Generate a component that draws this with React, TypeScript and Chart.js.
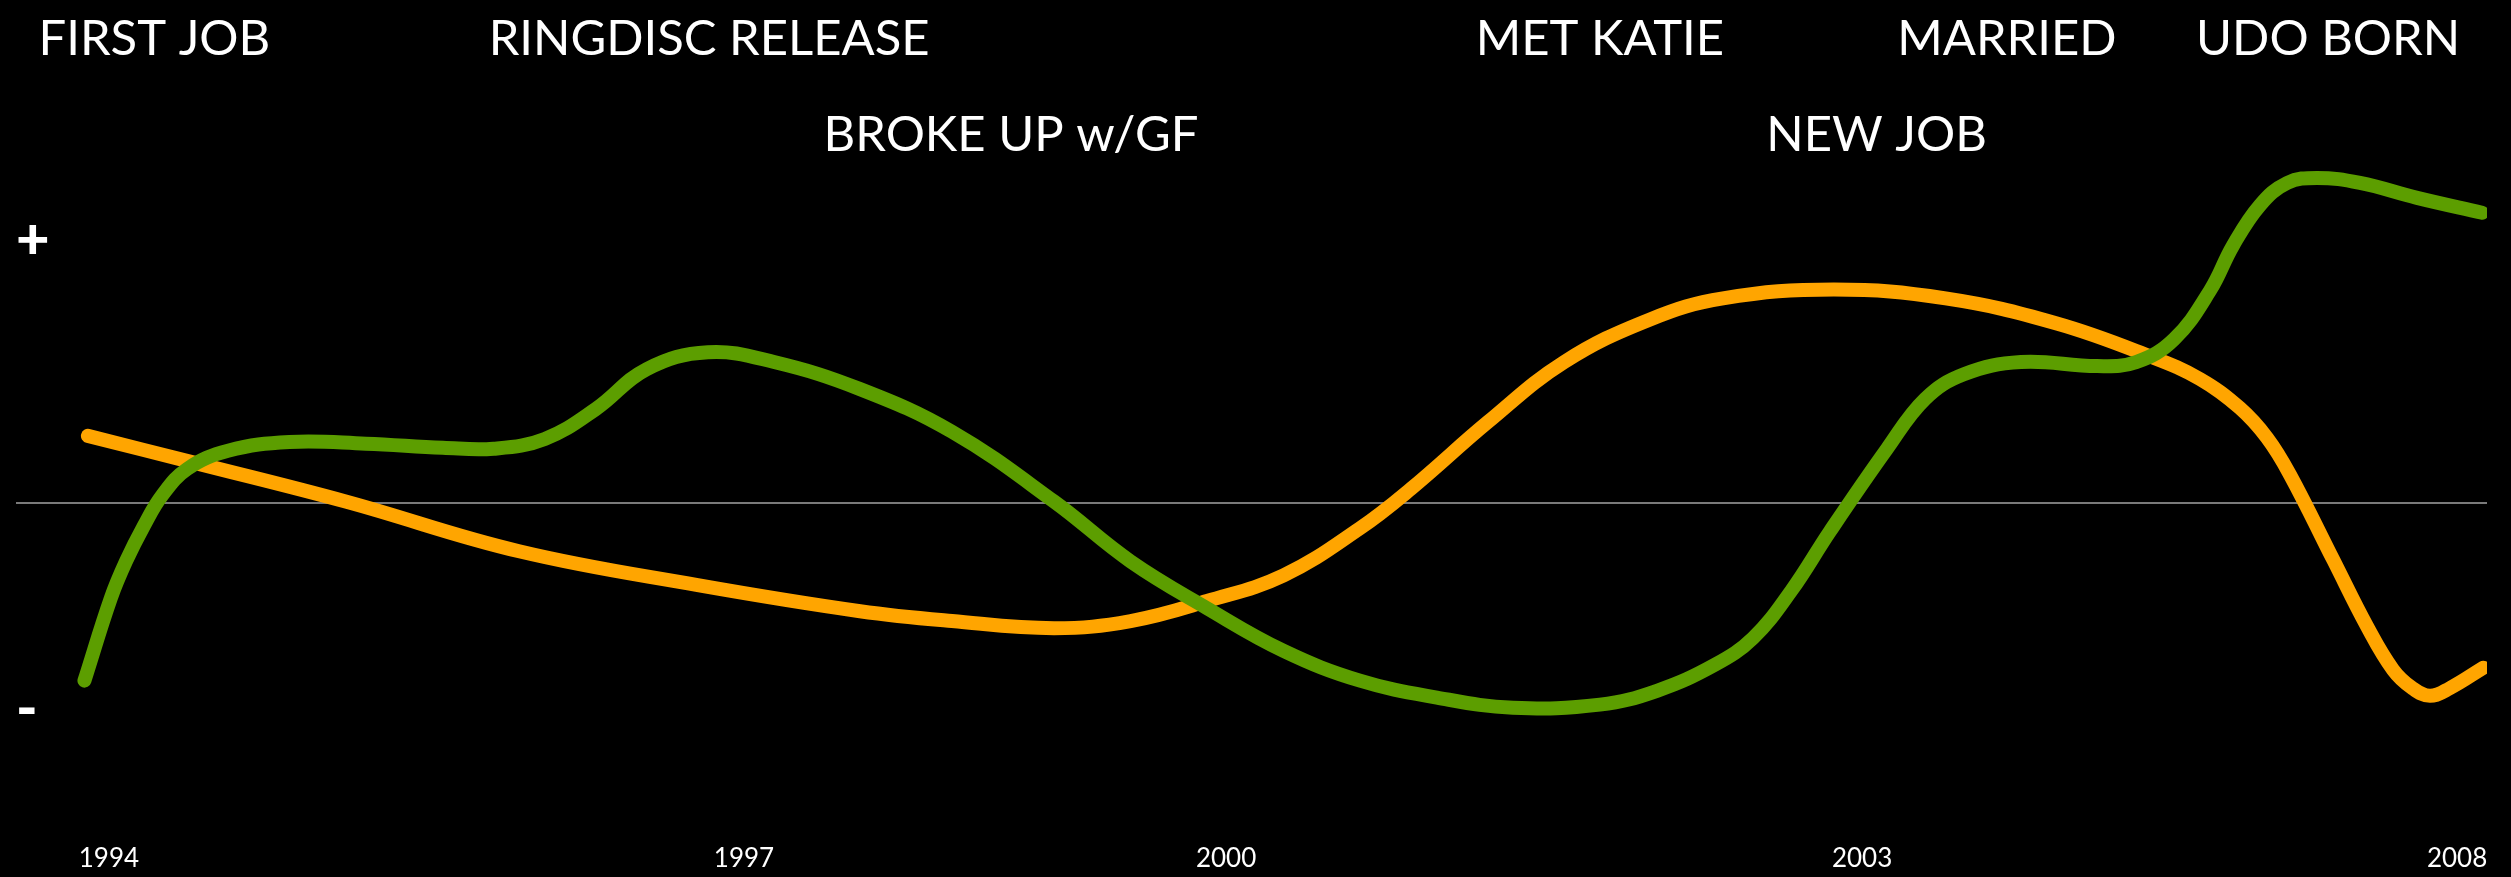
import React, { useEffect, useRef } from "react";
import { Chart, registerables } from "chart.js";

Chart.register(...registerables);

// Timeline position (0–100 across the plot) and mood (-100 … 100)
const greenX = [2.77, 3.84, 4.45, 5.18, 5.91, 6.94, 8.58, 11.07, 14.16, 17.27, 19.33, 21.4, 23.46, 25.52, 28.0, 30.68, 34.16, 37.88, 42.01, 45.11, 48.2, 51.3, 54.39, 57.5, 60.58, 64.1, 66.41, 68.76, 70.3, 71.83, 73.41, 75.72, 77.26, 78.83, 81.14, 84.22, 85.8, 87.33, 88.79, 89.72, 90.81, 91.91, 93.12, 94.86, 97.17, 99.8];
const greenY = [-52.6, -28.2, -17.4, -6.8, 2.1, 10.0, 15.3, 17.9, 17.4, 16.2, 15.9, 18.8, 27.6, 39.4, 44.4, 41.5, 33.5, 20.9, 0.3, -17.4, -31.2, -43.8, -52.6, -57.6, -60.6, -59.7, -55.6, -47.9, -40.0, -26.2, -8.5, 15.9, 30.6, 37.9, 41.5, 40.3, 41.5, 48.2, 62.6, 75.9, 87.8, 94.4, 95.9, 94.4, 90.0, 85.6];

const orangeX = [2.91, 7.36, 13.34, 20.36, 27.59, 34.16, 37.88, 42.01, 45.11, 48.2, 51.3, 54.39, 56.46, 59.57, 62.65, 66.13, 69.08, 73.57, 78.09, 82.59, 86.36, 88.38, 90.0, 91.1, 92.03, 93.77, 95.14, 96.2, 96.96, 97.69, 98.5, 99.85];
const orangeY = [19.7, 11.5, 0.3, -14.4, -24.4, -32.1, -35.0, -37.1, -35.0, -29.1, -21.5, -7.6, 4.1, 23.8, 41.5, 54.1, 60.3, 62.9, 60.3, 52.9, 43.2, 36.5, 27.9, 19.1, 8.2, -16.8, -36.5, -49.4, -54.7, -57.1, -54.8, -48.8];

const tickPositions = [3.76, 29.46, 48.97, 74.71, 98.79];
const tickLabels = ["1994", "1997", "2000", "2003", "2008"];

const moodPositions = [77.4, 0, -61.2];
const moodLabels = ["+", "", "-"];

const eventLabels = ["FIRST JOB", "RINGDISC RELEASE", "BROKE UP w/GF", "MET KATIE", "NEW JOB", "MARRIED", "UDO BORN"];
const eventX = [5.6, 28.05, 40.27, 64.1, 75.3, 80.57, 93.57];
const eventRow = [0, 0, 1, 0, 1, 0, 0];

const FONT = "Lato, 'Open Sans', sans-serif";

const eventPlugin = {
  id: "events",
  afterDraw(chart: any) {
    const { ctx, scales } = chart;
    const xs = scales.x;
    ctx.save();
    ctx.fillStyle = "#ffffff";
    ctx.font = `49px ${FONT}`;
    ctx.textAlign = "center";
    ctx.textBaseline = "alphabetic";
    const rowBase = [55, 151];
    eventLabels.forEach((t, i) => {
      ctx.fillText(t, xs.getPixelForValue(eventX[i]), rowBase[eventRow[i]]);
    });
    ctx.restore();
  },
};

export default function App() {
  const ref = useRef<HTMLCanvasElement | null>(null);
  useEffect(() => {
    document.body.style.margin = "0";
    document.body.style.background = "#000";
    const canvas = ref.current!;
    const chart = new Chart(canvas, {
      type: "line",
      data: {
        datasets: [
          {
            label: "green",
            data: greenX.map((x, i) => ({ x, y: greenY[i] })),
            borderColor: "#5c9e00",
            borderWidth: 14,
            borderCapStyle: "round",
            borderJoinStyle: "round",
            pointRadius: 0,
            tension: 0.4,
            fill: false,
          },
          {
            label: "orange",
            data: orangeX.map((x, i) => ({ x, y: orangeY[i] })),
            borderColor: "#ffa500",
            borderWidth: 14,
            borderCapStyle: "round",
            borderJoinStyle: "round",
            pointRadius: 0,
            tension: 0.4,
            fill: false,
          },
        ],
      },
      options: {
        responsive: false,
        animation: false,
        devicePixelRatio: 1,
        layout: { padding: { left: 16, right: 24, top: 164, bottom: 0 } },
        plugins: { legend: { display: false }, tooltip: { enabled: false } },
        scales: {
          x: {
            type: "linear",
            min: 0,
            max: 100,
            grid: { display: false, drawTicks: false },
            border: { display: false },
            afterBuildTicks: (s: any) => {
              s.ticks = tickPositions.map((v) => ({ value: v }));
            },
            ticks: {
              autoSkip: false,
              maxRotation: 0,
              padding: 3,
              color: "#ffffff",
              font: { family: FONT, size: 26, lineHeight: 1.15 },
              callback: (_v: any, i: number) => tickLabels[i],
            },
          },
          y: {
            type: "linear",
            min: -100,
            max: 100,
            border: { display: false },
            grid: {
              drawTicks: false,
              lineWidth: 2,
              color: (c: any) => (c.tick && c.tick.value === 0 ? "#7a7a7a" : "rgba(0,0,0,0)"),
            },
            afterBuildTicks: (s: any) => {
              s.ticks = moodPositions.map((v) => ({ value: v }));
            },
            ticks: {
              mirror: true,
              padding: 0,
              color: "#ffffff",
              font: { family: "Lato, sans-serif", size: 58, weight: "900" },
              callback: (_v: any, i: number) => moodLabels[i],
            },
          },
        },
      },
      plugins: [eventPlugin],
    });
    return () => chart.destroy();
  }, []);
  return (
    <div style={{ background: "#000", width: 2511, height: 877 }}>
      <canvas ref={ref} width={2511} height={877} style={{ display: "block" }} />
    </div>
  );
}
